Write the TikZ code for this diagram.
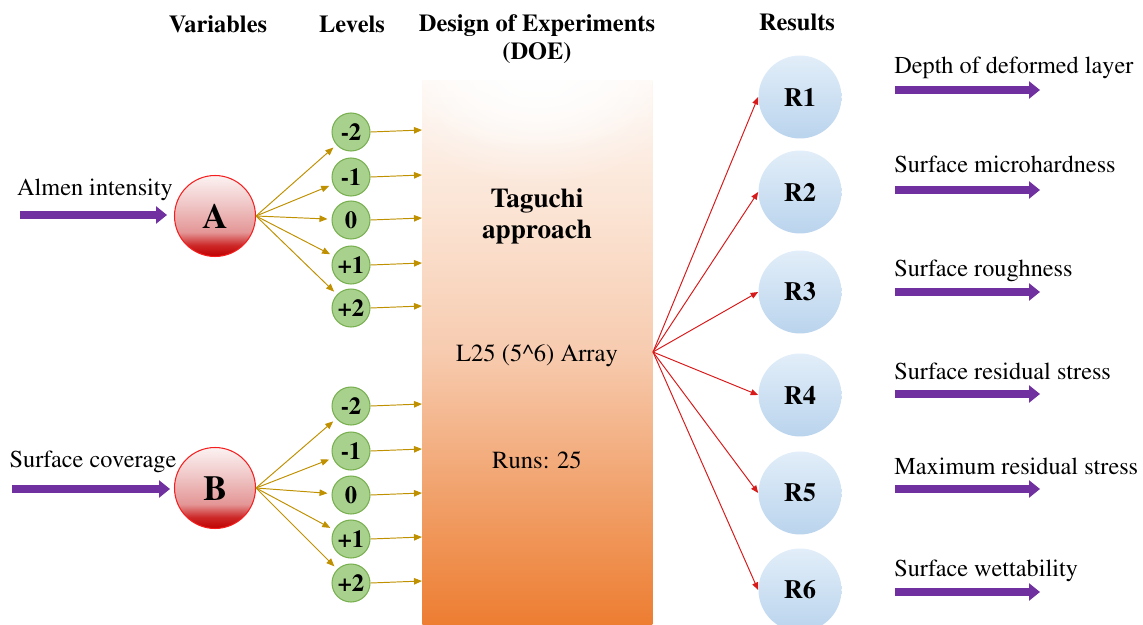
\documentclass[tikz,border=0pt]{standalone}
\usepackage[T1]{fontenc}
\usepackage{times}
\usetikzlibrary{arrows.meta,fadings}
\definecolor{purp}{RGB}{112,48,160}
\definecolor{gold}{RGB}{191,144,0}
\definecolor{redA}{RGB}{215,25,25}
\definecolor{grnF}{RGB}{169,209,142}
\definecolor{grnD}{RGB}{120,176,80}
\definecolor{bluT}{RGB}{226,238,249}
\definecolor{bluB}{RGB}{186,212,237}
\definecolor{or0}{RGB}{237,125,49}
\definecolor{or1}{RGB}{241,160,105}
\definecolor{or2}{RGB}{247,203,175}
\definecolor{or3}{RGB}{251,228,212}
\definecolor{or4}{RGB}{252,237,227}
\definecolor{or5}{RGB}{254,247,242}
\definecolor{rb0}{RGB}{190,0,0}
\definecolor{rb1}{RGB}{205,40,40}
\definecolor{rb2}{RGB}{228,150,150}
\definecolor{rb3}{RGB}{240,200,200}
\definecolor{rb4}{RGB}{252,242,242}
\pgfdeclareverticalshading{doeshade}{100bp}{color(0bp)=(or0); color(25bp)=(or0); color(36.6bp)=(or1); color(50bp)=(or2); color(63bp)=(or3); color(69bp)=(or4); color(75bp)=(or5); color(100bp)=(or5)}
\pgfdeclareverticalshading{redball}{100bp}{color(0bp)=(rb0); color(25bp)=(rb0); color(32bp)=(rb1); color(40bp)=(rb2); color(58bp)=(rb3); color(75bp)=(rb4); color(100bp)=(rb4)}
\tikzfading[name=softfade, inner color=transparent!0, outer color=transparent!100]
\tikzset{
  lbl/.style={inner sep=0pt, font=\fontsize{13.8}{16}\selectfont},
  hdr/.style={inner sep=0pt, font=\bfseries\fontsize{13.9}{16}\selectfont},
  ball/.style={circle, draw={rgb,255:red,245;green,30;blue,30}, line width=0.6pt, shade, shading=redball, minimum size=1.62cm, inner sep=0pt, font=\bfseries\fontsize{20}{24}\selectfont},
  lev/.style={circle, draw=grnD, line width=0.6pt, fill=grnF, minimum size=0.76cm, inner sep=0pt, font=\bfseries\fontsize{14}{16}\selectfont},
  res/.style={circle, shade, top color=bluT, bottom color=bluB, draw=none, minimum size=1.66cm, inner sep=0pt, font=\bfseries\fontsize{15}{18}\selectfont},
  fat/.style={draw=purp, line width=0.16cm, -{Triangle[length=0.22cm, width=0.34cm]}},
  goldarrow/.style={draw=gold, line width=0.55pt, -{Triangle[length=0.16cm, width=0.13cm]}},
  redarrow/.style={draw=redA, line width=0.55pt, -{Triangle[length=0.15cm, width=0.12cm]}},
}
\begin{document}
\begin{tikzpicture}[x=0.02cm, y=-0.02cm]
\useasboundingbox (0,0) rectangle (1143,625);
% DOE block
\node[shade, shading=doeshade, draw=none, minimum width=4.6cm, minimum height=10.9cm, inner sep=0pt, anchor=north west] (doe) at (422,80) {};
\begin{scope}
  \clip (422,80) rectangle (652,625);
  \fill[white, path fading=softfade] (537,60) ellipse [x radius=2.7cm, y radius=1.9cm];
  \fill[white, path fading=softfade] (537,70) ellipse [x radius=3.3cm, y radius=2.3cm];
\end{scope}
% headers
\node[hdr, anchor=base] (h1) at (218,33) {Variables};
\node[hdr, anchor=base] (h2) at (352,33) {Levels};
\node[hdr, anchor=base] (h3) at (537,32) {Design of Experiments};
\node[hdr, anchor=base] (h4) at (537,60) {(DOE)};
\node[hdr, anchor=base] (h5) at (797,31) {Results};
% DOE texts
\node[inner sep=0pt, anchor=base, font=\bfseries\fontsize{15.5}{18}\selectfont] (tag1) at (537,207) {Taguchi};
\node[inner sep=0pt, anchor=base, font=\bfseries\fontsize{15.5}{18}\selectfont] (tag2) at (537,238) {approach};
\node[lbl, anchor=base, font=\fontsize{14}{16}\selectfont] (arr) at (537,361) {L25 (5\textasciicircum 6) Array};
\node[lbl, anchor=base, font=\fontsize{14}{16}\selectfont] (runs) at (537,468) {Runs: 25};
% variables
\node[ball] (A) at (215,216) {A};
\node[ball] (B) at (215,488) {B};
\node[lbl, anchor=base] (tA) at (95,195) {Almen intensity};
\node[lbl, anchor=base] (tB) at (93,467) {Surface coverage};
\coordinate (ia0) at (20,215);
\coordinate (ia1) at (167,215);
\coordinate (ib0) at (12,489);
\coordinate (ib1) at (170,489);
\draw[fat] (ia0) -- (ia1);
\draw[fat] (ib0) -- (ib1);
% levels
\foreach \n/\t/\ya/\yb in {1/-2/132/406, 2/-1/177/451, 3/0/220/495, 4/+1/265/539, 5/+2/308/583}{
  \node[lev] (a\n) at (351,\ya) {\t};
  \node[lev] (b\n) at (351,\yb) {\t};
  \coordinate (da\n) at (422,\ya-2);
  \coordinate (db\n) at (422,\yb-2);
  \draw[goldarrow, shorten >=0.08cm] (A.east) -- (a\n);
  \draw[goldarrow, shorten >=0.08cm] (B.east) -- (b\n);
  \draw[goldarrow] (a\n.east) -- (da\n);
  \draw[goldarrow] (b\n.east) -- (db\n);
}
% results
\coordinate (src) at (653,352);
\foreach \n/\y/\ty/\ay/\txt in {1/97/74/90/Depth of deformed layer, 2/192/173/190/Surface microhardness, 3/292/276/292/Surface roughness, 4/395/379/394/Surface residual stress, 5/493/474/489/Maximum residual stress, 6/590/576/592/Surface wettability}{
  \node[res] (R\n) at (800,\y) {R\n};
  \draw[redarrow] (src) -- (R\n.west);
  \node[lbl, anchor=base west] (o\n) at (894,\ty) {\txt};
  \coordinate (oa\n) at (895,\ay);
  \coordinate (ob\n) at (1040,\ay);
  \draw[fat] (oa\n) -- (ob\n);
}
\end{tikzpicture}
\end{document}
